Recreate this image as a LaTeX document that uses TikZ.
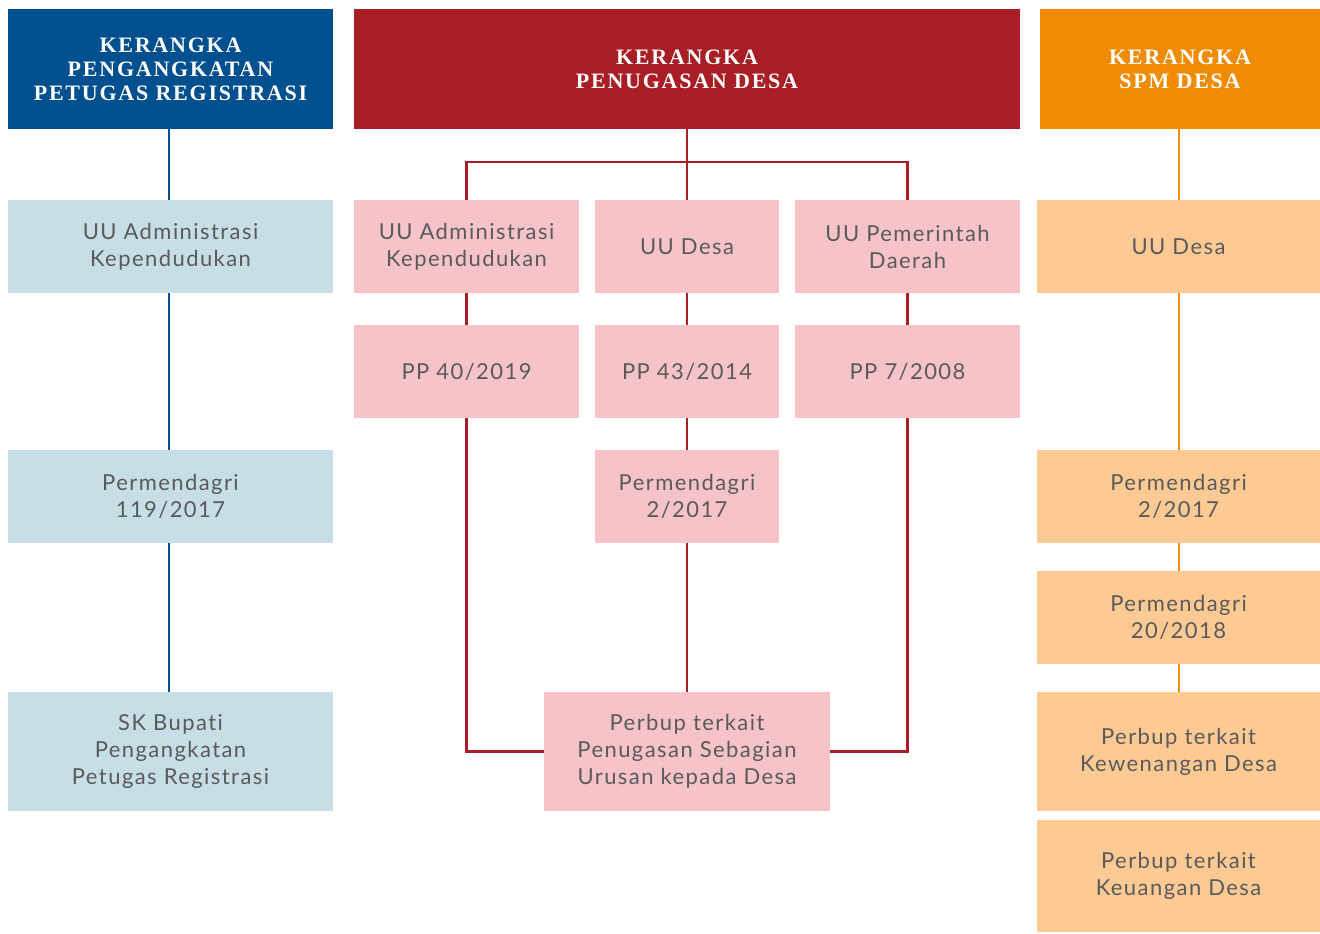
\documentclass[tikz,border=0pt]{standalone}
\usepackage{fontspec}
\usetikzlibrary{backgrounds}
\newfontfamily\bodyf[LetterSpace=6.5,Ligatures={NoCommon,NoRare,NoDiscretionary}]{Lato}
\newfontfamily\titlef[LetterSpace=8]{Liberation Serif}
\definecolor{cblue}{HTML}{004F8E}
\definecolor{cred}{HTML}{A91D24}
\definecolor{corange}{HTML}{EF8C04}
\definecolor{lblue}{HTML}{C8DEE6}
\definecolor{lpink}{HTML}{F6C3C8}
\definecolor{lorange}{HTML}{FDCA94}
\definecolor{tgray}{HTML}{5A5A5A}
\tikzset{
  base/.style={inner sep=0pt, outer sep=0pt, align=center},
  head/.style={base, text=white, minimum height=90pt, font=\titlef\bfseries\fontsize{16.5}{18}\selectfont},
  item/.style={base, text=tgray, minimum height=69.75pt, font=\bodyf\fontsize{16.5}{20.25}\selectfont},
  tall/.style={minimum height=89.25pt},
  wide/.style={minimum width=243.75pt},
  side/.style={minimum width=168.75pt},
  mid/.style={minimum width=138pt},
  rcol/.style={minimum width=212.25pt},
  bluebox/.style={item, fill=lblue},
  pinkbox/.style={item, fill=lpink},
  orangebox/.style={item, fill=lorange},
  conn/.style={line width=1.6pt},
}
\begin{document}
\begin{tikzpicture}[x=0.75pt,y=-0.75pt]
\useasboundingbox (0,0) rectangle (1320,933);
% headers
\node[head, fill=cblue, minimum width=243.75pt] (bh) at (170.5,69) {KERANGKA\\PENGANGKATAN\\PETUGAS REGISTRASI};
\node[head, fill=cred, minimum width=499.5pt] (rh) at (687,69) {KERANGKA\\PENUGASAN DESA};
\node[head, fill=corange, minimum width=210pt] (oh) at (1180,69) {KERANGKA\\SPM DESA};
% left column
\node[bluebox, wide] (l1) at (170.5,246.5) {UU Administrasi\\Kependudukan};
\node[bluebox, wide] (l2) at (170.5,496.5) {Permendagri\\119/2017};
\node[bluebox, wide, tall] (l3) at (170.5,751.5) {SK Bupati\\Pengangkatan\\Petugas Registrasi};
% middle
\node[pinkbox, side] (a1) at (466.5,246.5) {UU Administrasi\\Kependudukan};
\node[pinkbox, mid] (b1) at (687,246.5) {UU Desa};
\node[pinkbox, side] (c1) at (907.5,246.5) {UU Pemerintah\\Daerah};
\node[pinkbox, side] (a2) at (466.5,371.5) {PP 40/2019};
\node[pinkbox, mid] (b2) at (687,371.5) {PP 43/2014};
\node[pinkbox, side] (c2) at (907.5,371.5) {PP 7/2008};
\node[pinkbox, mid] (b3) at (687,496.5) {Permendagri\\2/2017};
\node[pinkbox, tall, minimum width=214.5pt] (pb) at (687,751.5) {Perbup terkait\\Penugasan Sebagian\\Urusan kepada Desa};
% right column
\node[orangebox, rcol] (r1) at (1178.5,246.5) {UU Desa};
\node[orangebox, rcol] (r2) at (1178.5,496.5) {Permendagri\\2/2017};
\node[orangebox, rcol] (r3) at (1178.5,617.5) {Permendagri\\20/2018};
\node[orangebox, rcol, tall] (r4) at (1178.5,751.5) {Perbup terkait\\Kewenangan Desa};
\node[orangebox, rcol, minimum height=84pt] (r5) at (1178.5,876) {Perbup terkait\\Keuangan Desa};
% connectors
\begin{scope}[on background layer]
\draw[conn, cblue] ([xshift=-1pt]bh.south) -- ([xshift=-1pt]l3.north);
\draw[conn, corange] ([xshift=-0.75pt]oh.south) -- ([xshift=-0.75pt]oh.south |- r4.north);
\coordinate (split) at ([yshift=-33*0.75pt]rh.south);
\draw[conn, cred] (rh.south) -- (b1.north);
\draw[conn, cred] (a1.north) |- (split) -| (c1.north);
\draw[conn, cred] (a1.south) -- (a2.north);
\draw[conn, cred] (a2.south) |- (pb.west);
\draw[conn, cred] (c1.south) -- (c2.north);
\draw[conn, cred] (c2.south) |- (pb.east);
\draw[conn, cred] (b1.south) -- (b2.north);
\draw[conn, cred] (b2.south) -- (b3.north);
\draw[conn, cred] (b3.south) -- (pb.north);
\end{scope}
\end{tikzpicture}
\end{document}
